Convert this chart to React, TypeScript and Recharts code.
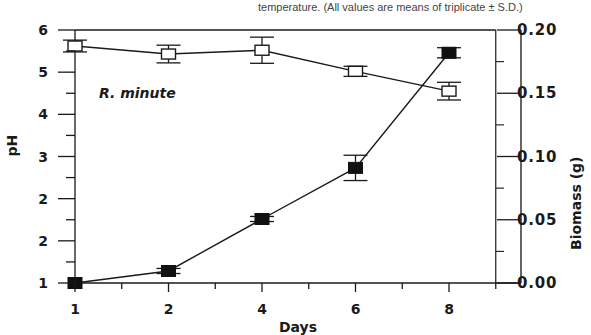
import React from 'react';
import { ComposedChart, Line, XAxis, YAxis, ErrorBar, ReferenceLine, Label } from 'recharts';

const days = [1, 2, 4, 6, 8];
const ph = [5.62, 5.43, 5.52, 5.02, 4.55];
const phSd = [0.14, 0.21, 0.31, 0.12, 0.21];
const biomass = [0.0, 0.0095, 0.0506, 0.091, 0.182];
const biomassSd = [0.0, 0.002, 0.002, 0.01, 0.004];
const phTickLabels = ['1', '2', '2', '3', '4', '5', '6'];
const biomassTickLabels = ['0.00', '0.05', '0.10', '0.15', '0.20'];

const data = days.map((d, i) => ({
  pos: i,
  day: d,
  ph: ph[i],
  phSd: phSd[i],
  biomass: biomass[i],
  biomassSd: biomassSd[i],
}));

const ink = '#1a1a1a';
const font = '"DejaVu Sans", sans-serif';

const XTick = ({ x, y, payload }: any) => {
  const v = payload.value;
  const major = Number.isInteger(v) && v <= 4;
  return (
    <g>
      <line x1={x} x2={x} y1={y} y2={y + (major ? 9 : 6)} stroke={ink} strokeWidth={1.3} />
      {major && (
        <text x={x} y={y + 31} textAnchor="middle" fontSize={14} fontWeight="bold" fontFamily={font} fill={ink}>
          {days[v]}
        </text>
      )}
    </g>
  );
};

const LeftTick = ({ x, y, payload }: any) => {
  const v = payload.value;
  const major = Number.isInteger(v);
  return (
    <g>
      <line x1={x - (major ? 17 : 9)} x2={x} y1={y} y2={y} stroke={ink} strokeWidth={1.3} />
      {major && (
        <text x={x - 27} y={y + 5} textAnchor="end" fontSize={14} fontWeight="bold" fontFamily={font} fill={ink}>
          {phTickLabels[v]}
        </text>
      )}
    </g>
  );
};

const RightTick = ({ x, y, payload }: any) => {
  const v = payload.value;
  const idx = Math.round(v / 0.025);
  const major = idx % 2 === 0;
  return (
    <g>
      {major ? (
        <line x1={x - 24} x2={x} y1={y} y2={y} stroke={ink} strokeWidth={1.3} />
      ) : (
        <line x1={x - 25} x2={x - 17} y1={y} y2={y} stroke={ink} strokeWidth={1.1} />
      )}
      {major && (
        <text x={x - 4} y={y + 5} textAnchor="start" fontSize={15} fontWeight="bold" fontFamily={font} fill={ink} letterSpacing={0.8}>
          {biomassTickLabels[idx / 2]}
        </text>
      )}
    </g>
  );
};

const OpenSquare = ({ cx, cy }: any) => (
  <rect x={cx - 7} y={cy - 5} width={14} height={10} fill="#fff" stroke={ink} strokeWidth={1.4} />
);

const FilledSquare = ({ cx, cy }: any) => (
  <rect x={cx - 7} y={cy - 5.5} width={14} height={11} fill="#111" stroke="#111" strokeWidth={1} />
);

export default function App() {
  return (
    <div style={{ position: 'absolute', left: 0, top: 0, width: 591, height: 335, background: '#fff', overflow: 'hidden' }}>
      <div
        style={{
          position: 'absolute',
          left: 258,
          top: 1,
          fontFamily: '"Liberation Sans", Arial, sans-serif',
          fontSize: 11,
          lineHeight: '12px',
          color: '#444',
          whiteSpace: 'nowrap',
        }}
      >
        temperature. (All values are means of triplicate ± S.D.)
      </div>
      <div
        style={{
          position: 'absolute',
          left: 99,
          top: 85,
          fontFamily: font,
          fontSize: 14,
          fontWeight: 'bold',
          fontStyle: 'italic',
          color: ink,
          whiteSpace: 'nowrap',
        }}
      >
        R. minute
      </div>
      <ComposedChart width={591} height={335} data={data} margin={{ top: 30, right: 0, bottom: 0, left: 0 }}>
        <XAxis
          dataKey="pos"
          type="number"
          domain={[0, 4.77]}
          ticks={[0, 0.5, 1, 1.5, 2, 2.5, 3, 3.5, 4, 4.5]}
          interval={0}
          tick={<XTick />}
          tickLine={false}
          tickSize={0}
          tickMargin={0}
          axisLine={{ stroke: ink, strokeWidth: 1.3 }}
          height={52}
        >
          <Label value="Days" position="insideBottom" offset={3} fontSize={14} fontWeight="bold" fontFamily={font} fill={ink} />
        </XAxis>
        <YAxis
          yAxisId="ph"
          orientation="left"
          domain={[0, 6]}
          ticks={[0, 0.5, 1, 1.5, 2, 2.5, 3, 3.5, 4, 4.5, 5, 5.5, 6]}
          interval={0}
          tick={<LeftTick />}
          tickLine={false}
          tickSize={0}
          tickMargin={0}
          axisLine={{ stroke: ink, strokeWidth: 1.3 }}
          width={75}
        >
          <Label value="pH" angle={-90} position="insideLeft" offset={12} fontSize={14} fontWeight="bold" fontFamily={font} fill={ink} />
        </YAxis>
        <YAxis
          yAxisId="bio"
          orientation="right"
          domain={[0, 0.2]}
          ticks={[0, 0.025, 0.05, 0.075, 0.1, 0.125, 0.15, 0.175, 0.2]}
          interval={0}
          tick={<RightTick />}
          tickLine={false}
          tickSize={0}
          tickMargin={0}
          axisLine={{ stroke: '#555', strokeWidth: 1.8 }}
          width={70}
        >
          <Label value="Biomass (g)" angle={-90} position="insideRight" offset={15} fontSize={14} fontWeight="bold" fontFamily={font} fill={ink} />
        </YAxis>
        <ReferenceLine
          yAxisId="ph"
          segment={[{ x: 0, y: 6 }, { x: 4.5, y: 6 }]}
          stroke={ink}
          strokeWidth={1.3}
          ifOverflow="visible"
        />
        <ReferenceLine yAxisId="ph" x={4.5} stroke={ink} strokeWidth={1.2} />
        <Line
          yAxisId="ph"
          dataKey="ph"
          stroke={ink}
          strokeWidth={1.4}
          dot={<OpenSquare />}
          isAnimationActive={false}
        >
          <ErrorBar dataKey="phSd" width={12} stroke={ink} strokeWidth={1.3} direction="y" />
        </Line>
        <Line
          yAxisId="bio"
          dataKey="biomass"
          stroke={ink}
          strokeWidth={1.4}
          dot={<FilledSquare />}
          isAnimationActive={false}
        >
          <ErrorBar dataKey="biomassSd" width={12} stroke={ink} strokeWidth={1.3} direction="y" />
        </Line>
      </ComposedChart>
    </div>
  );
}
